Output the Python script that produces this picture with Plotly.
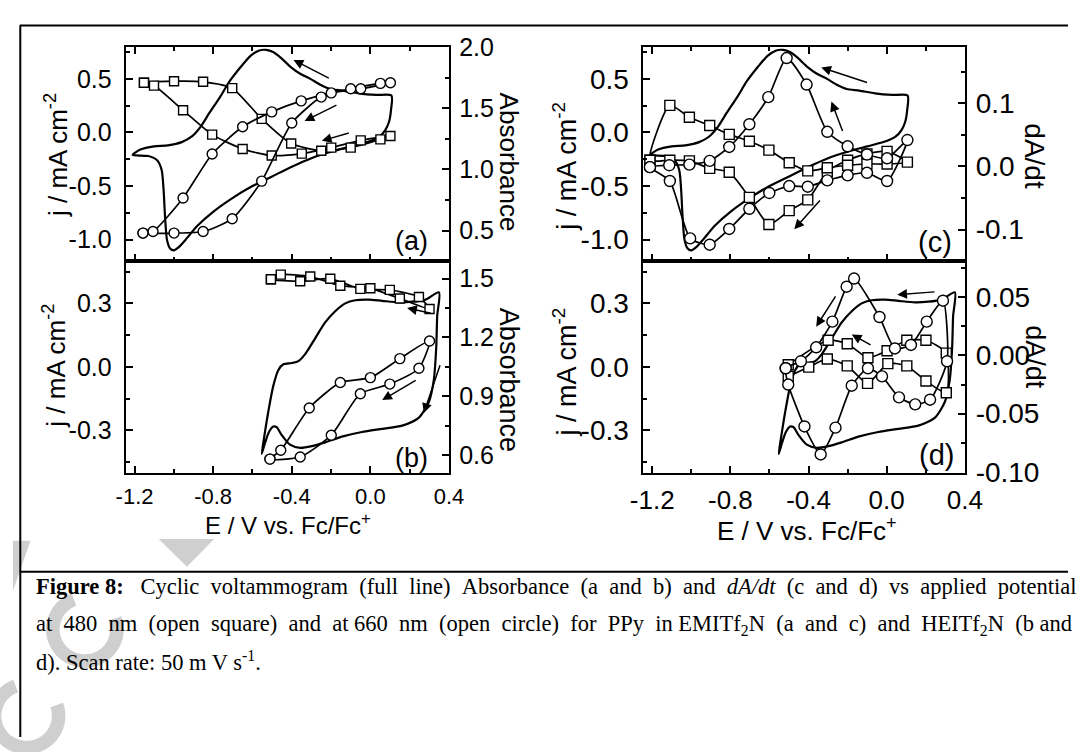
import math
import plotly.graph_objects as go

W, H = 1086, 752

# ---------------- cyclic voltammograms ----------------
# EMITf2N (panels a and c)
cv_emi_E = [-1.21, -1.17, -1.10, -1.03, -0.96, -0.91, -0.865, -0.82, -0.765, -0.715, -0.66, -0.61,
            -0.565, -0.53, -0.495, -0.455, -0.405, -0.355, -0.305, -0.255, -0.205, -0.14, -0.06, 0.03, 0.107,
            0.105, 0.095, 0.075, 0.045, 0.0, -0.10, -0.20, -0.30, -0.40, -0.50, -0.60, -0.70, -0.80,
            -0.88, -0.94, -0.975, -1.00, -1.02, -1.035, -1.045, -1.052, -1.062, -1.085, -1.13, -1.21]
cv_emi_j = [-0.21, -0.16, -0.13, -0.12, -0.09, -0.04, 0.05, 0.18, 0.33, 0.48, 0.61, 0.715,
            0.765, 0.77, 0.75, 0.695, 0.61, 0.545, 0.50, 0.445, 0.405, 0.39, 0.365, 0.35, 0.345,
            0.21, 0.10, 0.02, -0.04, -0.08, -0.13, -0.18, -0.24, -0.32, -0.41, -0.50, -0.61, -0.74,
            -0.87, -1.00, -1.07, -1.10, -1.08, -1.00, -0.78, -0.54, -0.35, -0.26, -0.22, -0.21]

# HEITf2N (panels b and d)
cv_hei_E = [-0.553, -0.540, -0.519, -0.494, -0.468, -0.443, -0.40, -0.366, -0.332, -0.281, -0.230, -0.179,
            -0.128, -0.077, -0.009, 0.060, 0.145, 0.213, 0.281, 0.349,
            0.340, 0.335, 0.323, 0.298, 0.247, 0.162, 0.060, -0.043, -0.145, -0.230, -0.298, -0.357,
            -0.409, -0.451, -0.477, -0.494, -0.516, -0.536, -0.553]
cv_hei_j = [-0.412, -0.33, -0.21, -0.09, -0.015, 0.012, 0.018, 0.027, 0.06, 0.135, 0.21, 0.263,
            0.30, 0.315, 0.318, 0.312, 0.305, 0.308, 0.318, 0.352,
            0.24, 0.09, -0.06, -0.165, -0.24, -0.278, -0.293, -0.308, -0.33, -0.357, -0.375, -0.383,
            -0.368, -0.323, -0.285, -0.282, -0.308, -0.36, -0.412]

# ---------------- absorbance, EMITf2N (a) ----------------
a480_emi_E = [-1.152, -0.999, -0.851, -0.703, -0.553, -0.403, -0.250, -0.100, 0.051, 0.102,
              -0.049, -0.199, -0.349, -0.502, -0.650, -0.805, -0.953, -1.101, -1.152]
a480_emi_A = [1.708, 1.721, 1.716, 1.664, 1.413, 1.211, 1.152, 1.178, 1.245, 1.273,
              1.237, 1.178, 1.129, 1.113, 1.167, 1.284, 1.483, 1.685, 1.708]
a660_emi_E = [-1.157, -0.999, -0.851, -0.703, -0.553, -0.400, -0.250, -0.100, 0.051, 0.102,
              -0.049, -0.199, -0.352, -0.502, -0.650, -0.805, -0.953, -1.106, -1.157]
a660_emi_A = [0.479, 0.479, 0.492, 0.596, 0.904, 1.379, 1.591, 1.659, 1.703, 1.708,
              1.659, 1.625, 1.560, 1.470, 1.348, 1.126, 0.766, 0.492, 0.479]

# ---------------- absorbance, HEITf2N (b) ----------------
a480_hei_E = [-0.506, -0.357, -0.204, -0.051, 0.099, 0.247, 0.301, 0.150, 0.000, -0.153, -0.306, -0.456, -0.506]
a480_hei_A = [1.497, 1.487, 1.500, 1.448, 1.443, 1.407, 1.345, 1.399, 1.451, 1.464, 1.511, 1.521, 1.497]
a660_hei_E = [-0.511, -0.357, -0.199, -0.051, 0.099, 0.247, 0.301, 0.150, 0.000, -0.153, -0.311, -0.456, -0.511]
a660_hei_A = [0.579, 0.590, 0.701, 0.913, 0.962, 1.043, 1.182, 1.092, 0.995, 0.970, 0.840, 0.624, 0.579]

# ---------------- dA/dt, EMITf2N (c) ----------------
d480_emi_E = [-1.212, -1.110, -1.010, -0.906, -0.806, -0.703, -0.603, -0.499, -0.404, -0.304, -0.200, -0.101,
              0.002, 0.106, 0.002, -0.101, -0.200, -0.304, -0.404, -0.499, -0.603, -0.703, -0.806, -0.906,
              -1.010, -1.110, -1.212]
d480_emi_D = [0.010, 0.010, 0.009, -0.003, -0.009, -0.049, -0.092, -0.070, -0.053, -0.008, 0.010, 0.020,
              0.024, 0.007, 0.004, 0.004, 0.002, -0.002, -0.007, 0.006, 0.026, 0.040, 0.051, 0.065,
              0.078, 0.097, 0.010]
d660_emi_E = [-1.212, -1.113, -1.010, -0.906, -0.806, -0.703, -0.606, -0.512, -0.410, -0.304, -0.200, -0.101,
              0.002, 0.106, 0.002, -0.101, -0.200, -0.304, -0.404, -0.499, -0.601, -0.703, -0.806, -0.906,
              -1.006, -1.110, -1.212]
d660_emi_D = [-0.001, 0.002, 0.003, 0.009, 0.031, 0.067, 0.110, 0.172, 0.130, 0.055, 0.032, 0.019,
              0.013, 0.042, -0.023, -0.010, -0.014, -0.022, -0.032, -0.031, -0.042, -0.067, -0.099, -0.124,
              -0.114, -0.023, -0.001]

# ---------------- dA/dt, HEITf2N (d) ----------------
d480_hei_E = [-0.504, -0.399, -0.304, -0.202, -0.098, 0.006, 0.103, 0.201, 0.305,
              0.305, 0.201, 0.103, 0.002, -0.096, -0.202, -0.300, -0.504]
d480_hei_D = [-0.018, -0.010, -0.003, -0.009, -0.024, -0.007, -0.009, -0.022, -0.032,
              0.002, 0.013, 0.013, 0.004, -0.002, 0.010, 0.013, -0.008]
d660_hei_E = [-0.517, -0.439, -0.361, -0.278, -0.205, -0.167, -0.037, 0.042, 0.124, 0.205, 0.288,
              0.309, 0.222, 0.146, 0.063, -0.024, -0.096, -0.179, -0.262, -0.338, -0.421, -0.504, -0.517]
d660_hei_D = [-0.011, -0.005, 0.007, 0.029, 0.059, 0.066, 0.033, 0.006, 0.009, 0.029, 0.047,
              -0.005, -0.038, -0.042, -0.036, -0.018, -0.011, -0.026, -0.062, -0.085, -0.061, -0.025, -0.011]

# ---------------- tick labels ----------------
x_tick_vals = [-1.2, -0.8, -0.4, 0.0, 0.4]
x_tick_text = ["-1.2", "-0.8", "-0.4", "0.0", "0.4"]
x_minor_vals = [-1.0, -0.6, -0.2, 0.2]

j_emi_vals = [-1.0, -0.5, 0.0, 0.5]
j_emi_text = ["-1.0", "-0.5", "0.0", "0.5"]
j_emi_minor = [-0.75, -0.25, 0.25, 0.75]
abs_emi_vals = [0.5, 1.0, 1.5, 2.0]
abs_emi_text = ["0.5", "1.0", "1.5", "2.0"]
abs_emi_minor = [0.75, 1.25, 1.75]

j_hei_vals = [-0.3, 0.0, 0.3]
j_hei_text = ["-0.3", "0.0", "0.3"]
j_hei_minor = [-0.45, -0.15, 0.15, 0.45]
abs_hei_vals = [0.6, 0.9, 1.2, 1.5]
abs_hei_text = ["0.6", "0.9", "1.2", "1.5"]
abs_hei_minor = [0.75, 1.05, 1.35]

dadt_emi_vals = [-0.1, 0.0, 0.1]
dadt_emi_text = ["-0.1", "0.0", "0.1"]
dadt_emi_minor = [-0.05, 0.05, 0.15]
dadt_hei_vals = [-0.10, -0.05, 0.00, 0.05]
dadt_hei_text = ["-0.10", "-0.05", "0.00", "0.05"]
dadt_hei_minor = [-0.075, -0.025, 0.025, 0.075]

SANS = "Arial, Liberation Sans, Arimo, sans-serif"
NARROW = "Liberation Sans Narrow, Arial Narrow, Liberation Sans, Arial, sans-serif"
SERIF = "Times New Roman, Liberation Serif, Tinos, serif"


def fx(px):
    return px / W


def fy(py):
    return 1 - py / H


X_LEFT = (fx(116), fx(449))
X_RIGHT = (fx(649), fx(980))
Y_TOP = (fy(257), fy(34))
Y_BOT = (fy(477), fy(257))


def axis_style(vals, text, minor_vals, size, family=SANS, show_labels=True, standoff=4):
    return dict(
        tickmode="array", tickvals=vals, ticktext=text,
        showticklabels=show_labels, ticklabelstandoff=standoff,
        ticks="inside", ticklen=7, tickwidth=1.6, tickcolor="black",
        showline=True, linecolor="black", linewidth=2,
        showgrid=False, zeroline=False,
        tickfont=dict(family=family, size=size, color="black"),
        minor=dict(ticks="inside", ticklen=4, tickwidth=1.6, tickcolor="black",
                   tickmode="array", tickvals=minor_vals, showgrid=False),
    )


fig = go.Figure()

X_RANGE = [-1.245, 0.401]

layout_axes = {}
panels = [
    # x axis, left y, right y, x domain, y domain, x labels, mirror, y tick size, x tick size, x font
    ("x", "y", "y2", X_LEFT, Y_TOP, False, "ticks", 25, 22, SANS),
    ("x2", "y3", "y4", X_LEFT, Y_BOT, True, True, 25, 22, NARROW),
    ("x3", "y5", "y6", X_RIGHT, Y_TOP, False, "ticks", 28, 26, SANS),
    ("x4", "y7", "y8", X_RIGHT, Y_BOT, True, True, 28, 26, SANS),
]
left_specs = [
    ([-1.2, 0.8], j_emi_vals, j_emi_text, j_emi_minor),
    ([-0.5, 0.5], j_hei_vals, j_hei_text, j_hei_minor),
    ([-1.2, 0.8], j_emi_vals, j_emi_text, j_emi_minor),
    ([-0.5, 0.5], j_hei_vals, j_hei_text, j_hei_minor),
]
right_specs = [
    ([0.25, 2.003], abs_emi_vals, abs_emi_text, abs_emi_minor),
    ([0.51, 1.59], abs_hei_vals, abs_hei_text, abs_hei_minor),
    ([-0.15, 0.19], dadt_emi_vals, dadt_emi_text, dadt_emi_minor),
    ([-0.1006, 0.081], dadt_hei_vals, dadt_hei_text, dadt_hei_minor),
]

for (xk, yl, yr, xdom, ydom, xlabels, mirror, tsize, xsize, xfont), lspec, rspec in zip(
        panels, left_specs, right_specs):
    xname = "xaxis" if xk == "x" else "xaxis" + xk[1:]
    ylname = "yaxis" if yl == "y" else "yaxis" + yl[1:]
    yrname = "yaxis" + yr[1:]
    xa = axis_style(x_tick_vals, x_tick_text, x_minor_vals, xsize, xfont, xlabels, 3)
    xa.update(domain=list(xdom), anchor=yl, range=X_RANGE, mirror=mirror)
    ya = axis_style(lspec[1], lspec[2], lspec[3], tsize, standoff=7)
    ya.update(domain=list(ydom), anchor=xk, range=lspec[0])
    yb = axis_style(rspec[1], rspec[2], rspec[3], tsize, standoff=3)
    yb.update(overlaying=yl, side="right", anchor=xk, range=rspec[0])
    layout_axes[xname] = xa
    layout_axes[ylname] = ya
    layout_axes[yrname] = yb


# ---------------- traces ----------------
def cv_trace(E, j, xa, ya):
    return go.Scatter(x=E, y=j, xaxis=xa, yaxis=ya, mode="lines",
                      line=dict(color="black", width=2.2, shape="spline", smoothing=0.7),
                      hoverinfo="skip", showlegend=False)


def marker_trace(E, v, xa, ya, symbol, size):
    return go.Scatter(x=E, y=v, xaxis=xa, yaxis=ya, mode="lines+markers",
                      line=dict(color="black", width=1.7, shape="spline", smoothing=0.6),
                      marker=dict(symbol=symbol, size=size, color="white",
                                  line=dict(color="black", width=1.4)),
                      hoverinfo="skip", showlegend=False)


fig.add_trace(cv_trace(cv_emi_E, cv_emi_j, "x", "y"))
fig.add_trace(marker_trace(a480_emi_E, a480_emi_A, "x", "y2", "square", 9))
fig.add_trace(marker_trace(a660_emi_E, a660_emi_A, "x", "y2", "circle", 10))

fig.add_trace(cv_trace(cv_hei_E, cv_hei_j, "x2", "y3"))
fig.add_trace(marker_trace(a480_hei_E, a480_hei_A, "x2", "y4", "square", 9))
fig.add_trace(marker_trace(a660_hei_E, a660_hei_A, "x2", "y4", "circle", 10))

fig.add_trace(cv_trace(cv_emi_E, cv_emi_j, "x3", "y5"))
fig.add_trace(marker_trace(d480_emi_E, d480_emi_D, "x3", "y6", "square", 10))
fig.add_trace(marker_trace(d660_emi_E, d660_emi_D, "x3", "y6", "circle", 11))

fig.add_trace(cv_trace(cv_hei_E, cv_hei_j, "x4", "y7"))
fig.add_trace(marker_trace(d480_hei_E, d480_hei_D, "x4", "y8", "square", 10))
fig.add_trace(marker_trace(d660_hei_E, d660_hei_D, "x4", "y8", "circle", 11))

# ---------------- scan-direction arrows (tail -> head, in E / j units) ----------------
arrows = [
    ("x", "y", -0.204, 0.50, -0.391, 0.676),
    ("x", "y", -0.165, 0.262, -0.335, 0.107),
    ("x", "y", -0.102, -0.001, -0.247, -0.078),
    ("x2", "y3", 0.315, 0.252, 0.187, 0.278),
    ("x2", "y3", 0.238, -0.06, 0.060, -0.157),
    ("x2", "y3", 0.357, 0.015, 0.272, -0.218),
    ("x3", "y5", -0.093, 0.461, -0.335, 0.606),
    ("x3", "y5", -0.223, 0.0, -0.283, 0.288),
    ("x3", "y5", -0.335, -0.621, -0.473, -0.903),
    ("x4", "y7", 0.253, 0.355, 0.054, 0.341),
    ("x4", "y7", -0.257, 0.340, -0.361, 0.190),
    ("x4", "y7", -0.075, 0.100, -0.179, 0.153),
]
annotations = []
for xa, ya, x0, y0, x1, y1 in arrows:
    annotations.append(dict(x=x1, y=y1, ax=x0, ay=y0, xref=xa, yref=ya, axref=xa, ayref=ya,
                            showarrow=True, arrowhead=2, arrowsize=1.3, arrowwidth=1.5,
                            arrowcolor="black", text=""))


def label(text, px, py, size, angle=0, family=SANS, xanchor="center"):
    annotations.append(dict(text=text, x=fx(px), y=fy(py), xref="paper", yref="paper",
                            showarrow=False, textangle=angle, xanchor=xanchor, yanchor="middle",
                            font=dict(family=family, size=size, color="black")))


# panel letters
label("(a)", 410, 236, 27)
label("(b)", 410, 462, 27)
label("(c)", 949, 237, 29)
label("(d)", 951, 459, 29)

# axis titles
J_TITLE = "j / mA cm<sup>-2</sup>"
label(J_TITLE, 45, 147, 26, -90)
label(J_TITLE, 43, 366, 26, -90)
label(J_TITLE, 568, 158, 27, -90)
label(J_TITLE, 568, 372, 27, -90)
label("Absorbance", 510, 154, 26, 90)
label("Absorbance", 510, 381, 27, 90)
label("dA/dt", 1052, 148, 28, 90)
label("dA/dt", 1052, 357, 27, 90)
E_TITLE = "E / V vs. Fc/Fc<sup>+</sup>"
label(E_TITLE, 283, 530, 24, 0, NARROW)
label(E_TITLE, 817, 536, 26)

# caption (justified lines widened with non-breaking spaces)
CAP = 22.5
NB = "\u00a0"
cap1_words = ["<b>Figure 8:</b>" + NB, "Cyclic", "voltammogram", "(full", "line)", "Absorbance", "(a", "and",
              "b)", "and", "<i>dA/dt</i>", "(c", "and", "d)", "vs", "applied", "potential"]
cap2_words = ["at", "480", "nm", "(open", "square)", "and", "at", "660", "nm", "(open", "circle)", "for",
              "PPy", "in", "EMITf<sub>2</sub>N", "(a", "and", "c)", "and", "HEITf<sub>2</sub>N", "(b", "and"]
cap1 = (" " + NB).join(cap1_words)
cap2 = ""
for k, w in enumerate(cap2_words):
    cap2 += w
    if k < len(cap2_words) - 1:
        cap2 += (" " + NB) if k % 7 != 6 else " "
label(cap1, 22, 595, CAP, 0, SERIF, "left")
label(cap2, 22, 635, CAP, 0, SERIF, "left")
label("d). Scan rate: 50 m V s<sup>-1</sup>.", 22, 673, CAP, 0, SERIF, "left")


# ---------------- frame lines and background watermark ----------------
def ppath(points):
    return "M " + " L ".join(f"{fx(x):.5f},{fy(y):.5f}" for x, y in points) + " Z"


def arc_band(cx, cy, r_out, r_in, a0, a1, n=40):
    outer = [(cx + r_out * math.cos(math.radians(a0 + (a1 - a0) * k / n)),
              cy + r_out * math.sin(math.radians(a0 + (a1 - a0) * k / n))) for k in range(n + 1)]
    inner = [(cx + r_in * math.cos(math.radians(a1 - (a1 - a0) * k / n)),
              cy + r_in * math.sin(math.radians(a1 - (a1 - a0) * k / n))) for k in range(n + 1)]
    return outer + inner


WM = "#cfcfcf"
shapes = [
    dict(type="path", xref="paper", yref="paper", layer="below", line=dict(width=0), fillcolor=WM,
         path=ppath([(150, 546), (207, 546), (179, 575)])),
    dict(type="path", xref="paper", yref="paper", layer="below", line=dict(width=0), fillcolor=WM,
         path=ppath(arc_band(74, 640, 40, 26, -20, 250))),
    dict(type="path", xref="paper", yref="paper", layer="below", line=dict(width=0), fillcolor=WM,
         path=ppath(arc_band(14, 730, 40, 26, -20, 250))),
    dict(type="path", xref="paper", yref="paper", layer="below", line=dict(width=0), fillcolor=WM,
         path=ppath([(0, 548), (18, 548), (0, 600)])),
    dict(type="line", xref="paper", yref="paper", x0=fx(7.5), x1=fx(7.5), y0=fy(12), y1=0,
         line=dict(color="black", width=2)),
    dict(type="line", xref="paper", yref="paper", x0=fx(7), x1=1, y0=fy(12), y1=fy(12),
         line=dict(color="black", width=2)),
    dict(type="line", xref="paper", yref="paper", x0=fx(7), x1=1, y0=fy(580), y1=fy(580),
         line=dict(color="black", width=2)),
]

fig.update_layout(
    width=W, height=H, autosize=False,
    margin=dict(l=0, r=0, t=0, b=0),
    paper_bgcolor="white", plot_bgcolor="rgba(0,0,0,0)",
    showlegend=False,
    annotations=annotations,
    shapes=shapes,
    **layout_axes,
)

# the page body gets no default margin; applied right after the plot call
PAGE_CSS = "document.documentElement.style.margin='0';document.body.style.margin='0';"
fig.write_html("out.html", post_script="});" + PAGE_CSS + "(function(){")
